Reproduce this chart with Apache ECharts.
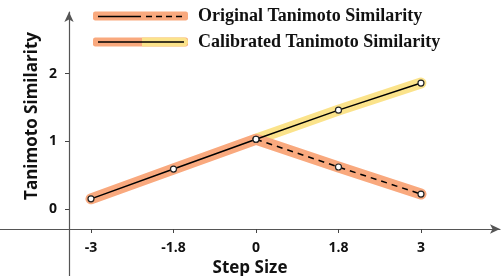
<!DOCTYPE html>
<html>
<head>
<meta charset="utf-8">
<script src="https://cdn.jsdelivr.net/npm/echarts@6/dist/echarts.min.js"></script>
<style>
html,body{margin:0;padding:0;background:#fff;}
#main{width:502px;height:276px;}
</style>
</head>
<body>
<div id="main"></div>
<script>
var stepLabels = ['-3', '-1.8', '0', '1.8', '3'];
var original = [0.15, 0.59, 1.03, 0.62, 0.22];
var calibrated = [0.15, 0.59, 1.03, 1.46, 1.86];
var yTicks = [0, 1, 2];

var orange = '#F9A97E';
var yellow = '#FBE38B';

function pts(list, from, to) {
	var out = [];
	for (var i = 0; i < list.length; i++) {
		if (i >= from && i <= to) out.push([i, list[i]]);
	}
	return out;
}

var myChart = echarts.init(document.getElementById('main'));

var halo = function (name, data, color) {
	return {
		name: name, type: 'line', data: data, symbol: 'none', silent: true,
		lineStyle: { color: color, width: 11, cap: 'round', join: 'round' },
		z: 1
	};
};

var option = {
	animation: false,
	grid: { left: 0, right: 2, top: 12, bottom: 0, outerBoundsMode: 'none', containLabel: false },
	legend: {
		left: 93, top: 7, orient: 'vertical', itemGap: 8, padding: 0,
		itemWidth: 95, itemHeight: 9, icon: 'roundRect', selectedMode: false,
		textStyle: { fontFamily: 'Liberation Serif', fontWeight: 'bold', fontSize: 18, color: '#111', padding: [0, 0, 0, 5] },
		data: [
			{ name: 'Original Tanimoto Similarity', itemStyle: { color: orange } },
			{ name: 'Calibrated Tanimoto Similarity', itemStyle: { color: orange } }
		]
	},
	xAxis: {
		type: 'value', min: -1.103, max: 4.958, position: 'bottom', offset: -47,
		name: 'Step Size', nameLocation: 'middle', nameGap: 30,
		nameTextStyle: { fontFamily: 'Open Sans', fontWeight: 'bold', fontSize: 17, color: '#111' },
		axisLine: { onZero: false, lineStyle: { color: '#555', width: 1.2 }, symbol: ['none', 'arrow'], symbolSize: [7, 10] },
		axisTick: { customValues: [0, 1, 2, 3, 4], length: 4, lineStyle: { color: '#444' } },
		axisLabel: {
			customValues: [0, 1, 2, 3, 4], margin: 12,
			fontFamily: 'Open Sans', fontWeight: 'bold', fontSize: 14, color: '#111',
			formatter: function (v) { return stepLabels[Math.round(v)]; }
		},
		splitLine: { show: false }
	},
	yAxis: {
		type: 'value', min: -0.99, max: 2.91, position: 'left', offset: -69,
		axisLine: { show: true, onZero: false, lineStyle: { color: '#555', width: 1.2 }, symbol: ['none', 'arrow'], symbolSize: [7, 10] },
		axisTick: { show: true, customValues: yTicks, length: 4, lineStyle: { color: '#444' } },
		axisLabel: {
			customValues: yTicks, margin: 12,
			fontFamily: 'Open Sans', fontWeight: 'bold', fontSize: 14, color: '#111'
		},
		splitLine: { show: false }
	},
	graphic: [
		{ type: 'text', x: 32, y: 116, rotation: Math.PI / 2,
		  style: { text: 'Tanimoto Similarity', fontFamily: 'Open Sans', fontWeight: 'bold', fontSize: 17, fill: '#111', align: 'center', verticalAlign: 'middle' } },
		{ type: 'rect', shape: { x: 142, y: 37.5, width: 46, height: 9, r: [0, 4.5, 4.5, 0] }, style: { fill: yellow }, z: 101 },
		{ type: 'line', shape: { x1: 98, y1: 16.5, x2: 141, y2: 16.5 }, style: { stroke: '#000', lineWidth: 1.6 }, z: 102 },
		{ type: 'line', shape: { x1: 146, y1: 16.5, x2: 184, y2: 16.5 }, style: { stroke: '#000', lineWidth: 1.6, lineDash: [6, 4] }, z: 102 },
		{ type: 'line', shape: { x1: 98, y1: 42, x2: 184, y2: 42 }, style: { stroke: '#000', lineWidth: 1.6 }, z: 102 }
	],
	series: [
		halo('Calibrated Tanimoto Similarity', pts(calibrated, 2, 4), yellow),
		halo('Original Tanimoto Similarity', pts(original, 0, 4), orange),
		{
			type: 'line', data: pts(calibrated, 0, 4), z: 3,
			symbol: 'circle', symbolSize: 6,
			itemStyle: { color: '#fff', borderColor: '#222', borderWidth: 1.2 },
			lineStyle: { color: '#000', width: 1.5 }
		},
		{
			type: 'line', data: pts(original, 2, 4), z: 3,
			symbol: 'circle', symbolSize: 6,
			itemStyle: { color: '#fff', borderColor: '#222', borderWidth: 1.2 },
			lineStyle: { color: '#000', width: 1.5, type: [6, 5] }
		}
	]
};

myChart.setOption(option);
</script>
</body>
</html>
